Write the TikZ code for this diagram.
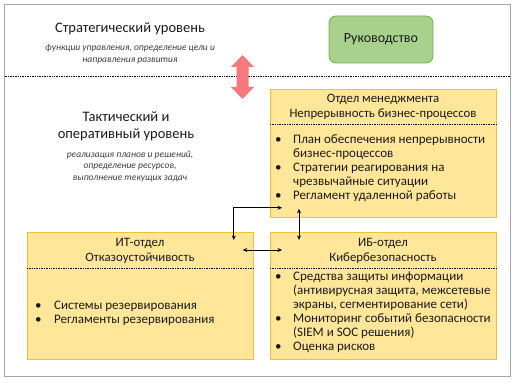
\documentclass[tikz,border=0pt]{standalone}
\usepackage{fontspec}
\setmainfont{Carlito}
\usetikzlibrary{arrows.meta,calc}
\definecolor{boxfill}{HTML}{FFE699}
\definecolor{boxline}{HTML}{F2C230}
\definecolor{grfill}{HTML}{A9D18E}
\definecolor{grline}{HTML}{70AD47}
\definecolor{redarr}{HTML}{F87880}
\definecolor{frame}{HTML}{A6A6A6}
\definecolor{txt}{HTML}{1A1A1A}
\begin{document}
\begin{tikzpicture}[x=1pt,y=-1pt,
  box/.style={draw=boxline,fill=boxfill,line width=0.8pt,anchor=north west,inner sep=0pt},
  sepline/.style={densely dotted,line width=0.7pt},
  conn/.style={{Stealth[length=4.5pt,width=4pt]}-{Stealth[length=4.5pt,width=4pt]},line width=0.8pt},
  title/.style={font=\fontsize{14.5}{17}\selectfont,text=txt,align=center,inner sep=0pt},
  sub/.style={font=\fontsize{9.5}{11.5}\selectfont\itshape,text=txt!85,align=center,inner sep=0pt},
  head/.style={font=\fontsize{12.8}{15}\selectfont,text=txt,align=center,inner sep=0pt},
  body/.style={font=\fontsize{13}{14}\selectfont,text=txt,anchor=north west,inner sep=0pt}
]
\useasboundingbox (0,0) rectangle (518,382);
\draw[frame,line width=0.8pt] (4.5,4.5) rectangle (510,376.5);
\draw[sepline] (4.5,76) -- (510,76);

\node[title] (strat) at (130,29) {Стратегический уровень};
\node[sub] (stratsub) at (130,54) {функции управления, определение цели и\\направления развития};
\node[title] (tact) at (126,126.5) {Тактический и\\оперативный уровень};
\node[sub] (tactsub) at (130,166.5) {реализация планов и решений,\\определение ресурсов,\\выполнение текущих задач};

\node[draw=grline,fill=grfill,line width=0.8pt,rounded corners=7pt,minimum width=104pt,minimum height=47pt,
  font=\fontsize{14}{16}\selectfont,text=txt] (ruk) at (381,39.5) {Руководство};

\fill[redarr] (242.5,55) -- (254,67) -- (248.5,67) -- (248.5,87) -- (254,87) -- (242.5,99)
  -- (231,87) -- (236.5,87) -- (236.5,67) -- (231,67) -- cycle;

% management box
\node[box,minimum width=226pt,minimum height=128pt] (mgmt) at (270,89) {};
\node[head] (mgmth) at (383,106.5) {Отдел менеджмента\\Непрерывность бизнес-процессов};
\draw[sepline] ($(mgmt.north west)+(0,35)$) -- ($(mgmt.north east)+(0,35)$);
\node[body] (mgmtb) at (275,133.5) {\begin{tabular}{@{}p{18pt}@{}l@{}}
\textbullet & План обеспечения непрерывности\\
 & бизнес-процессов\\
\textbullet & Стратегии реагирования на\\
 & чрезвычайные ситуации\\
\textbullet & Регламент удаленной работы
\end{tabular}};

% IT box
\node[box,minimum width=226pt,minimum height=127pt] (it) at (27,232) {};
\node[head] (ith) at (140,250.5) {ИТ-отдел\\Отказоустойчивость};
\draw[sepline] ($(it.north west)+(0,36)$) -- ($(it.north east)+(0,36)$);
\node[body] (itb) at (35,299.5) {\begin{tabular}{@{}p{19pt}@{}l@{}}
\textbullet & Системы резервирования\\
\textbullet & Регламенты резервирования
\end{tabular}};

% IB box
\node[box,minimum width=226pt,minimum height=127pt] (ib) at (270,232) {};
\node[head] (ibh) at (383,250.5) {ИБ-отдел\\Кибербезопасность};
\draw[sepline] ($(ib.north west)+(0,36)$) -- ($(ib.north east)+(0,36)$);
\node[body] (ibb) at (275,270.5) {\begin{tabular}{@{}p{18pt}@{}l@{}}
\textbullet & Средства защиты информации\\
 & (антивирусная защита, межсетевые\\
 & экраны, сегментирование сети)\\
\textbullet & Мониторинг событий безопасности\\
 & (SIEM и SOC решения)\\
\textbullet & Оценка рисков
\end{tabular}};

% connectors
\coordinate (c1) at ($(it.north east)+(-20,8)$);
\coordinate (c2) at ($(mgmt.south west)+(12,-10)$);
\draw[conn] (c1) |- (c2);
\coordinate (c3) at ($(mgmt.south west)+(29,-9)$);
\coordinate (c4) at ($(ib.north west)+(29,8)$);
\draw[conn] (c3) -- (c4);
\coordinate (c5) at ($(it.north east)+(-11,18)$);
\coordinate (c6) at ($(ib.north west)+(12,18)$);
\draw[conn] (c5) -- (c6);
\end{tikzpicture}
\end{document}
